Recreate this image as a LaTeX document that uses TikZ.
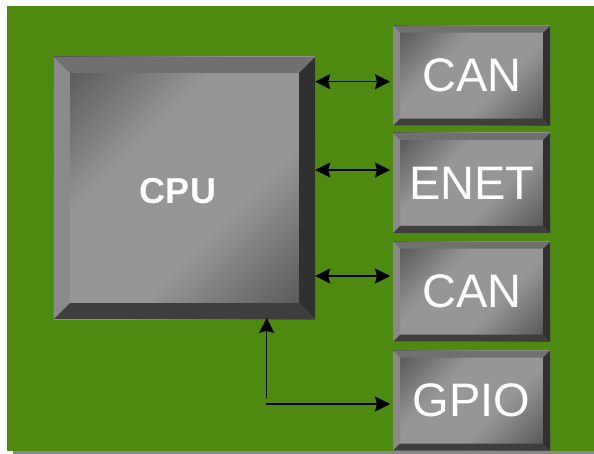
\documentclass[tikz,border=0pt]{standalone}
\usepackage{fontspec}
\setmainfont{Liberation Sans}
\usetikzlibrary{arrows.meta,calc}

% board and chip colours
\definecolor{board}{RGB}{78,138,16}
\definecolor{boardshadow}{RGB}{136,136,136}
\definecolor{facedark}{RGB}{80,80,80}
\definecolor{facelight}{RGB}{150,150,150}
\definecolor{beveltop}{RGB}{112,112,112}
\definecolor{bevelleft}{RGB}{138,138,138}
\definecolor{bevelright}{RGB}{48,48,48}
\definecolor{bevelbottom}{RGB}{62,62,62}

% diagonal sheen on the chip faces
\pgfdeclarehorizontalshading{chipface}{100bp}{%
  color(0bp)=(facedark); color(15bp)=(facedark);
  color(38bp)=(facelight); color(60bp)=(facelight);
  color(85bp)=(facedark); color(100bp)=(facedark)}

% four bevelled rim strips of width #1 around a chip
\newcommand\bevelrim[1]{%
  \coordinate (bvNW) at (path picture bounding box.north west);
  \coordinate (bvNE) at (path picture bounding box.north east);
  \coordinate (bvSW) at (path picture bounding box.south west);
  \coordinate (bvSE) at (path picture bounding box.south east);
  \coordinate (bvnw) at ([shift={(#1,-#1)}]bvNW);
  \coordinate (bvne) at ([shift={(-#1,-#1)}]bvNE);
  \coordinate (bvsw) at ([shift={(#1,#1)}]bvSW);
  \coordinate (bvse) at ([shift={(-#1,#1)}]bvSE);
  \fill[bevelleft]   (bvNW) -- (bvnw) -- (bvsw) -- (bvSW) -- cycle;
  \fill[beveltop]    (bvNW) -- (bvNE) -- (bvne) -- (bvnw) -- cycle;
  \fill[bevelright]  (bvNE) -- (bvSE) -- (bvse) -- (bvne) -- cycle;
  \fill[bevelbottom] (bvSW) -- (bvSE) -- (bvse) -- (bvsw) -- cycle;
}

\tikzset{
  chip/.style={rectangle, inner sep=0pt, shading=chipface, shading angle=-45,
    path picture={\bevelrim{#1}}, text=white},
  portchip/.style={chip=7bp, minimum width=157bp, minimum height=100bp,
    font=\fontsize{47bp}{47bp}\selectfont},
  cputext/.style={inner sep=0pt, text=white,
    font=\bfseries\fontsize{36bp}{36bp}\selectfont},
  link/.style={line width=1.4bp, black},
  duplex/.style={link, {Stealth[length=15bp,width=15bp,inset=2bp]}-{Stealth[length=15bp,width=15bp,inset=2bp]}},
  simplex/.style={link, -{Stealth[length=15bp,width=15bp,inset=2bp]}}
}

\begin{document}
\begin{tikzpicture}[x=1bp,y=-1bp]
  \useasboundingbox (0,0) rectangle (594,454);
  \fill[white] (0,0) rectangle (594,454);

  % board with its shadow
  \fill[boardshadow] (13,450.7) rectangle (594,454);
  \fill[board] (7,6) rectangle (594,450.7);

  % chips
  \node[chip=16bp, minimum width=261bp, minimum height=262bp] (cpu) at (184.5,188) {};
  \node[cputext] (cpulabel) at ([xshift=-6.5bp,yshift=-3bp]cpu.center) {CPU};

  \node[portchip] (can1) at (471.7,75.7)  {CAN};
  \node[portchip] (enet) at (471.7,183)   {ENET};
  \node[portchip] (can2) at (471.7,291.7) {CAN};
  \node[portchip] (gpio) at (471.7,400.5) {GPIO};

  % bus links
  \coordinate (r1) at ([yshift=-6bp]can1.west);
  \coordinate (r2) at ([yshift=13bp]enet.west);
  \coordinate (r3) at ([yshift=15.7bp]can2.west);
  \draw[duplex] (cpu.east |- r1) -- ([xshift=-3bp]r1);
  \draw[duplex] (cpu.east |- r2) -- ([xshift=-3bp]r2);
  \draw[duplex] (cpu.east |- r3) -- ([xshift=-3bp]r3);

  % GPIO path
  \coordinate (g1) at (266.7,398.3);
  \coordinate (g2) at (266,404);
  \coordinate (g3) at (gpio.west |- g2);
  \draw[simplex] (g1) -- ([yshift=1.3bp]cpu.south -| g1);
  \draw[simplex] (g2) -- ([xshift=-3bp]g3);
\end{tikzpicture}
\end{document}
